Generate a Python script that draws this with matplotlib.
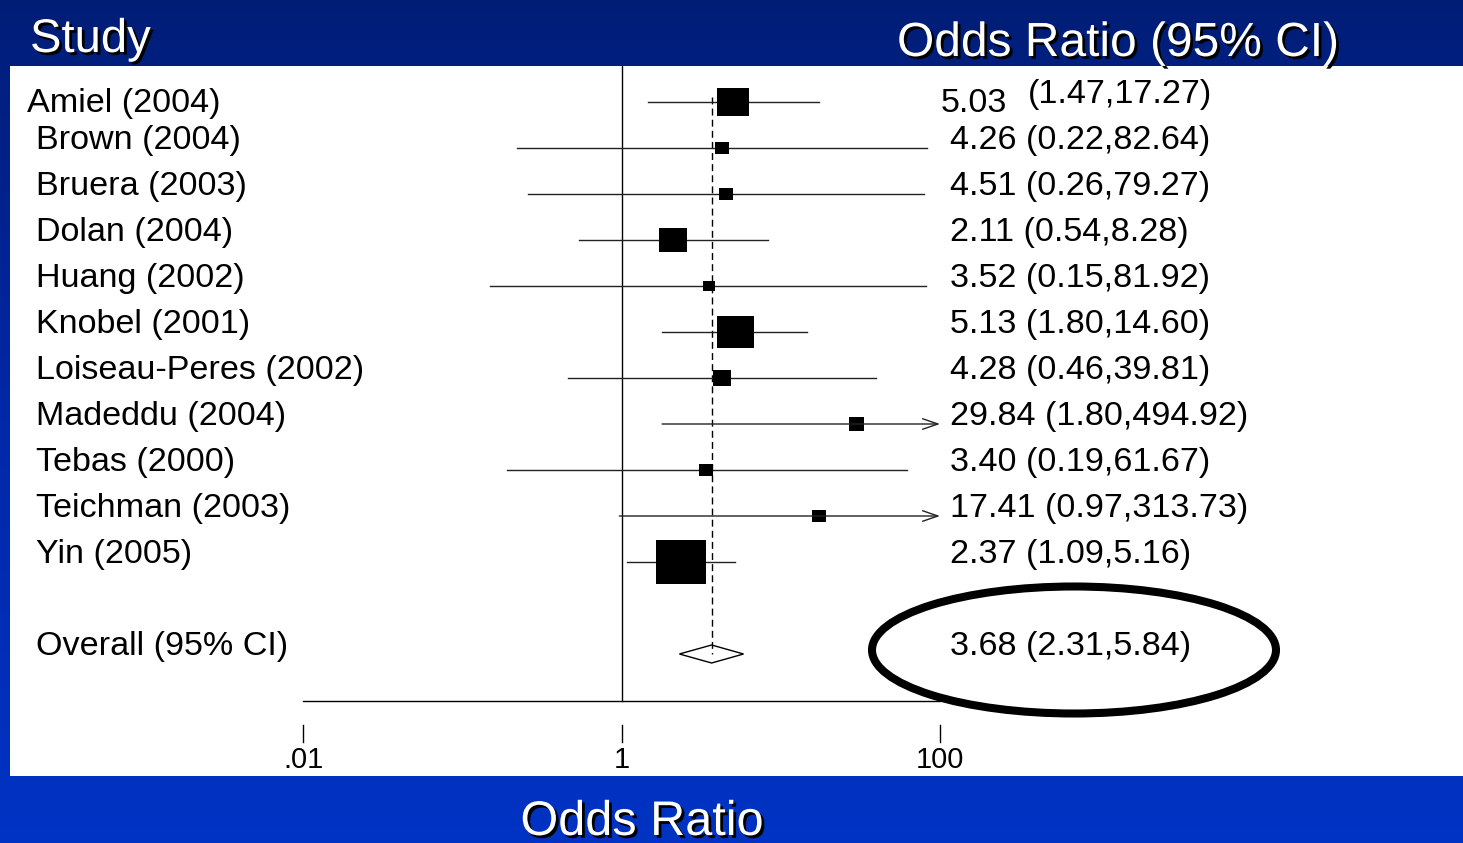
import numpy as np
import matplotlib.pyplot as plt
from matplotlib.patches import Rectangle, Ellipse, Polygon
from matplotlib.colors import LinearSegmentedColormap
from matplotlib.transforms import blended_transform_factory
import matplotlib.patheffects as pe

plt.rcParams['font.family'] = ['Liberation Sans', 'DejaVu Sans']

# study data
studies = ["Amiel (2004)", "Brown (2004)", "Bruera (2003)", "Dolan (2004)",
           "Huang (2002)", "Knobel (2001)", "Loiseau-Peres (2002)",
           "Madeddu (2004)", "Tebas (2000)", "Teichman (2003)", "Yin (2005)"]
odds = [5.03, 4.26, 4.51, 2.11, 3.52, 5.13, 4.28, 29.84, 3.40, 17.41, 2.37]
ci_lo = [1.47, 0.22, 0.26, 0.54, 0.15, 1.80, 0.46, 1.80, 0.19, 0.97, 1.09]
ci_hi = [17.27, 82.64, 79.27, 8.28, 81.92, 14.60, 39.81, 494.92, 61.67, 313.73, 5.16]
box_size = [32, 14, 14, 28, 12, 37, 18, 15, 14, 14, 50]   # study weight boxes (px)

overall_label = "Overall (95% CI)"
overall = 3.68
overall_lo = 2.31
overall_hi = 5.84

xticks = [0.01, 1, 100]
xtick_labels = [".01", "1", "100"]

W, H = 1463, 843
fig = plt.figure(figsize=(W / 100, H / 100), dpi=100)

# ===== background: blue gradient, white panel =====
bg = fig.add_axes([0, 0, 1, 1])
bg.set_xlim(0, W)
bg.set_ylim(H, 0)
bg.axis('off')
cmap = LinearSegmentedColormap.from_list('bg', ['#001d76', '#0028a8', '#0033c4'])
grad = np.linspace(0, 1, 256).reshape(-1, 1)
bg.imshow(grad, cmap=cmap, extent=[0, W, H, 0], aspect='auto')
bg.add_patch(Rectangle((10, 66), W - 10, 710, facecolor='white', edgecolor='none'))

shadow = [pe.withSimplePatchShadow(offset=(2, -2), shadow_rgbFace='black', alpha=1.0)]
bg.text(30, 52, "Study", color='white', fontsize=34, va='baseline', path_effects=shadow)
bg.text(897, 56, "Odds Ratio (95% CI)", color='white', fontsize=34.5, va='baseline',
        path_effects=shadow)
bg.text(642, 835, "Odds Ratio", color='white', fontsize=35, ha='center', va='baseline',
        path_effects=shadow)

# ===== forest plot axes =====
row0, step = 102, 46
ax = fig.add_axes([303 / W, 1 - 776 / H, (940 - 303) / W, 710 / H])
ax.set_xscale('log')
ax.set_xlim(0.01, 100)
ax.set_ylim((776 - row0) / step, (66 - row0) / step)
ax.axis('off')
ax.patch.set_alpha(0)

n = len(studies)
rows = np.arange(n)
overall_row = n + 1
axis_row = (701 - row0) / step

# null line and axis
ax.plot([1, 1], [(66 - row0) / step, axis_row], color='black', lw=1)
ax.plot([0.01, 100], [axis_row, axis_row], color='black', lw=1, clip_on=False)
for xt, lab in zip(xticks, xtick_labels):
    ax.plot([xt, xt], [(725 - row0) / step, (742 - row0) / step], color='black',
            lw=1, clip_on=False)
    ax.text(xt, (768 - row0) / step, lab, ha='center', va='baseline', fontsize=21)

# overall dashed line
ax.plot([overall, overall], [-0.11, overall_row], color='black', lw=1,
        dashes=(5, 3))

# CIs
for i in rows:
    hi = min(ci_hi[i], 100)
    if ci_hi[i] > 100:
        ax.annotate('', xy=(100, i), xytext=(ci_lo[i], i),
                    arrowprops=dict(arrowstyle='->,head_length=1.1,head_width=0.38',
                                    lw=1, color='#222222', shrinkA=0, shrinkB=0),
                    annotation_clip=False)
    else:
        ax.plot([ci_lo[i], hi], [i, i], color='#222222', lw=1, clip_on=False)

# boxes
box_marker = [(-1, -0.87), (1, -0.87), (1, 0.87), (-1, 0.87), (-1, -0.87)]
for i in rows:
    ax.plot(odds[i], i, marker=box_marker, markersize=box_size[i] * 0.72,
            color='black', markeredgewidth=0, linestyle='none')

# overall diamond
dh = 9 / step
ax.add_patch(Polygon([(overall_lo, overall_row), (overall, overall_row - dh),
                      (overall_hi, overall_row), (overall, overall_row + dh)],
                     closed=True, facecolor='white', edgecolor='black', lw=1))

# ===== text columns =====
tr = blended_transform_factory(bg.transData, ax.transData)
fs = 24.6
for i in rows:
    y = i - 7.5 / step
    lx = 27 if i == 0 else 36
    ax.text(lx, y + (9 / step if i == 0 else 0), studies[i], transform=tr,
            fontsize=fs, va='center')
    if i == 0:
        ax.text(941, i + 1 / step, f"{odds[i]:.2f}", transform=tr, fontsize=fs,
                va='center')
        ax.text(1028, i - 8 / step, f"({ci_lo[i]:.2f},{ci_hi[i]:.2f})",
                transform=tr, fontsize=fs, va='center')
    else:
        ax.text(950, y, f"{odds[i]:.2f} ({ci_lo[i]:.2f},{ci_hi[i]:.2f})",
                transform=tr, fontsize=fs, va='center')

y = overall_row - 7.5 / step
ax.text(36, y, overall_label, transform=tr, fontsize=fs, va='center')
ax.text(950, y, f"{overall:.2f} ({overall_lo:.2f},{overall_hi:.2f})",
        transform=tr, fontsize=fs, va='center')

# highlight ellipse
bg.add_patch(Ellipse((1074, 650), 404, 127, facecolor='none', edgecolor='black',
                     lw=5.8, zorder=5))

fig.savefig('out.png', dpi=100)
